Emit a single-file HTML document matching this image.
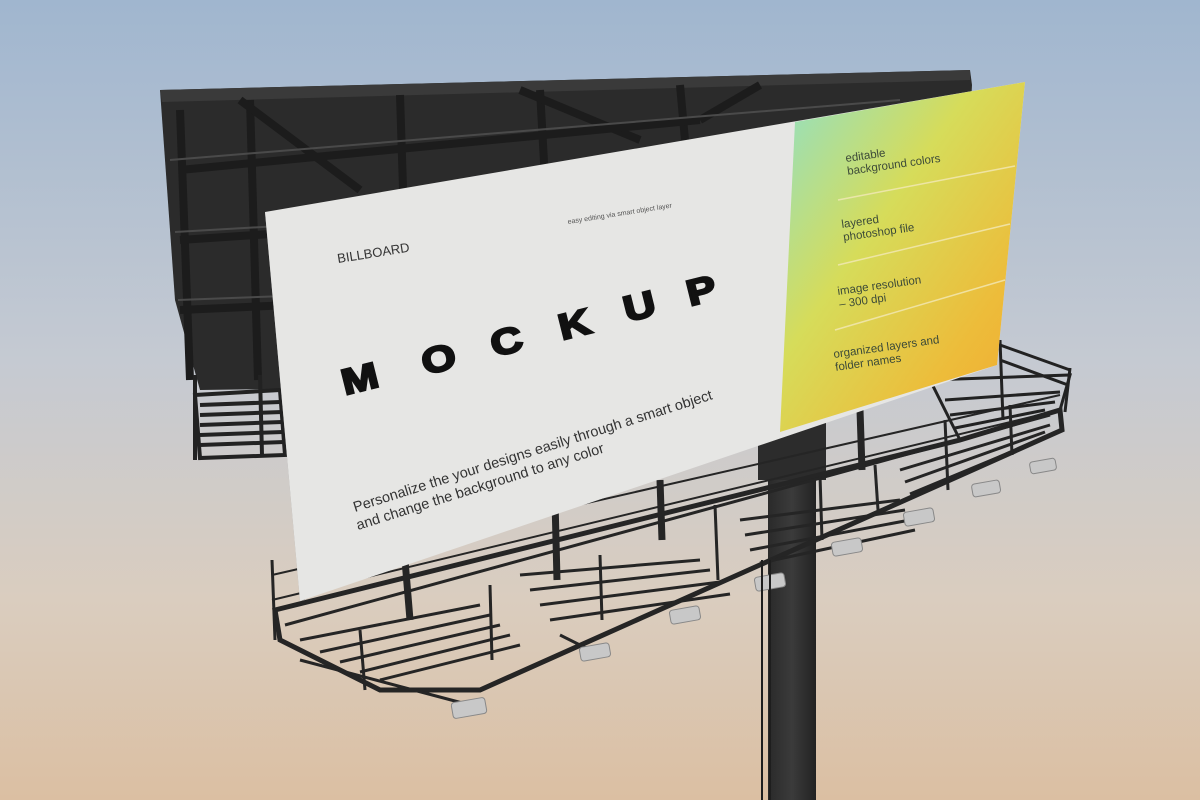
<!DOCTYPE html>
<html><head><meta charset="utf-8"><style>
html,body{margin:0;padding:0;width:1200px;height:800px;overflow:hidden}
svg{display:block}
text{font-family:"Liberation Sans",sans-serif}
</style></head><body>
<svg width="1200" height="800" viewBox="0 0 1200 800" xmlns="http://www.w3.org/2000/svg">
<defs>
<linearGradient id="sky" x1="0" y1="0" x2="0" y2="1">
<stop offset="0" stop-color="#a0b6cf"/><stop offset="0.45" stop-color="#c5cad2"/><stop offset="0.75" stop-color="#dacdbf"/><stop offset="1" stop-color="#dbbfa2"/>
</linearGradient>
<linearGradient id="grad" x1="0" y1="0" x2="1" y2="1">
<stop offset="0" stop-color="#8fe0c8"/><stop offset="0.4" stop-color="#d6dc5a"/><stop offset="0.75" stop-color="#edbc3a"/><stop offset="1" stop-color="#f0a830"/>
</linearGradient>
<linearGradient id="pole" x1="0" x2="1">
<stop offset="0" stop-color="#2a2a2a"/><stop offset="0.5" stop-color="#3b3b3b"/><stop offset="1" stop-color="#222"/>
</linearGradient>
</defs>
<rect width="1200" height="800" fill="url(#sky)"/>
<rect x="768" y="420" width="48" height="380" fill="url(#pole)"/>
<rect x="758" y="420" width="68" height="60" fill="#2c2c2c"/>
<polygon points="160,90 970,70 972,85 960,300 930,380 200,390 175,300" fill="#2b2b2b"/>
<polygon points="160,90 970,70 970,80 162,102" fill="#3a3a3a"/>
<g stroke="#1c1c1c" stroke-width="8" fill="none">
<line x1="180" y1="110" x2="190" y2="380"/>
<line x1="250" y1="100" x2="258" y2="380"/>
<line x1="400" y1="95" x2="405" y2="250"/>
<line x1="540" y1="90" x2="545" y2="180"/>
<line x1="680" y1="85" x2="685" y2="140"/>
<line x1="240" y1="100" x2="360" y2="190"/>
<line x1="520" y1="90" x2="640" y2="140"/>
<line x1="760" y1="85" x2="700" y2="120"/>
<line x1="180" y1="170" x2="700" y2="120"/>
<line x1="180" y1="240" x2="300" y2="232"/>
<line x1="180" y1="310" x2="290" y2="305"/>
</g>
<g stroke="#4a4a4a" stroke-width="2" fill="none">
<line x1="170" y1="160" x2="900" y2="100"/>
<line x1="175" y1="232" x2="280" y2="226"/>
<line x1="178" y1="300" x2="285" y2="296"/>
</g>
<g stroke="#222" stroke-width="4" fill="none">
<polygon points="195,395 280,390 285,455 200,458"/>
<line x1="200" y1="405" x2="280" y2="402"/><line x1="200" y1="415" x2="282" y2="412"/><line x1="200" y1="425" x2="282" y2="422"/><line x1="200" y1="435" x2="283" y2="432"/><line x1="200" y1="445" x2="284" y2="442"/>
<line x1="195" y1="375" x2="195" y2="460"/><line x1="260" y1="375" x2="262" y2="455"/>
</g>
<g stroke="#222" stroke-width="3" fill="none">
<polygon points="930,380 1070,375 1060,410 960,440"/>
<line x1="1000" y1="340" x2="1003" y2="420"/><line x1="1070" y1="368" x2="1065" y2="412"/>
<line x1="1000" y1="345" x2="1070" y2="370"/><line x1="1000" y1="360" x2="1068" y2="385"/>
<line x1="945" y1="400" x2="1060" y2="392"/><line x1="950" y1="415" x2="1055" y2="402"/><line x1="955" y1="428" x2="1045" y2="410"/>
</g>
<g stroke="#252525" fill="none">
<polygon points="275,610 960,440 1060,410 1062,430 480,690 380,690 280,640" stroke-width="5"/>
<line x1="285" y1="625" x2="1050" y2="415" stroke-width="3"/>
<g stroke-width="3">
<line x1="300" y1="640" x2="480" y2="605"/><line x1="320" y1="652" x2="490" y2="615"/><line x1="340" y1="662" x2="500" y2="625"/><line x1="360" y1="672" x2="510" y2="635"/><line x1="380" y1="680" x2="520" y2="645"/>
<line x1="520" y1="575" x2="700" y2="560"/><line x1="530" y1="590" x2="710" y2="570"/><line x1="540" y1="605" x2="720" y2="582"/><line x1="550" y1="620" x2="730" y2="594"/>
<line x1="740" y1="520" x2="900" y2="500"/><line x1="745" y1="535" x2="905" y2="510"/><line x1="750" y1="550" x2="910" y2="520"/><line x1="760" y1="563" x2="915" y2="530"/>
<line x1="900" y1="470" x2="1050" y2="425"/><line x1="905" y1="482" x2="1045" y2="432"/><line x1="910" y1="494" x2="1040" y2="440"/>
</g>
<g stroke-width="3">
<line x1="272" y1="560" x2="275" y2="640"/><line x1="360" y1="630" x2="365" y2="690"/><line x1="490" y1="585" x2="492" y2="660"/><line x1="600" y1="555" x2="602" y2="620"/><line x1="715" y1="505" x2="718" y2="580"/><line x1="820" y1="475" x2="822" y2="540"/><line x1="875" y1="465" x2="878" y2="510"/><line x1="945" y1="420" x2="948" y2="490"/><line x1="1010" y1="405" x2="1012" y2="455"/>
<line x1="272" y1="575" x2="1060" y2="395" stroke-width="2"/>
<line x1="272" y1="600" x2="1060" y2="410" stroke-width="2"/>
</g>
<g stroke-width="7">
<line x1="405" y1="560" x2="410" y2="620"/><line x1="555" y1="500" x2="557" y2="580"/><line x1="660" y1="480" x2="662" y2="540"/><line x1="860" y1="410" x2="862" y2="470"/>
</g>
<line x1="300" y1="660" x2="470" y2="705" stroke-width="3"/>
<line x1="560" y1="635" x2="600" y2="655" stroke-width="3"/>
</g>
<g fill="#c8c8c8" stroke="#888" stroke-width="1">
<rect x="452" y="700" width="34" height="16" rx="3" transform="rotate(-10 469 708)"/>
<rect x="580" y="645" width="30" height="14" rx="3" transform="rotate(-10 595 652)"/>
<rect x="670" y="608" width="30" height="14" rx="3" transform="rotate(-10 685 615)"/>
<rect x="755" y="575" width="30" height="14" rx="3" transform="rotate(-10 770 582)"/>
<rect x="832" y="540" width="30" height="14" rx="3" transform="rotate(-10 847 547)"/>
<rect x="904" y="510" width="30" height="14" rx="3" transform="rotate(-10 919 517)"/>
<rect x="972" y="482" width="28" height="13" rx="3" transform="rotate(-10 986 488)"/>
<rect x="1030" y="460" width="26" height="12" rx="3" transform="rotate(-10 1043 466)"/>
</g>
<g stroke="#1e1e1e" stroke-width="2"><line x1="762" y1="560" x2="762" y2="800"/><line x1="770" y1="560" x2="770" y2="800"/></g>
<polygon points="265,212 285,215 305,600 300,601" fill="#9a9a9a"/>
<polygon points="265,212 1025,82 997,365 300,601" fill="#e6e6e4"/>
<polygon points="795,122 1025,82 997,365 780,432" fill="url(#grad)"/>
<g stroke="#f3e9b8" stroke-width="1.5" opacity="0.8">
<line x1="838" y1="200" x2="1015" y2="166"/>
<line x1="838" y1="265" x2="1010" y2="224"/>
<line x1="835" y1="330" x2="1005" y2="280"/>
</g>
<g fill="#3c4a38" font-size="11.5">
<text transform="translate(846,162) rotate(-8)">editable<tspan x="0" dy="13">background colors</tspan></text>
<text transform="translate(842,228) rotate(-8)">layered<tspan x="0" dy="13">photoshop file</tspan></text>
<text transform="translate(838,295) rotate(-8)">image resolution<tspan x="0" dy="13">– 300 dpi</tspan></text>
<text transform="translate(834,358) rotate(-8)">organized layers and<tspan x="0" dy="13">folder names</tspan></text>
</g>
<text transform="translate(568,224) rotate(-9)" font-size="7" fill="#555">easy editing via smart object layer</text>
<text transform="translate(338,263) rotate(-9)" font-size="13" fill="#333">BILLBOARD</text>
<g font-size="40" font-weight="bold" fill="#111" stroke="#111" stroke-width="2.5">
<text transform="translate(345,395) rotate(-14) scale(1.1,0.9)">M</text>
<text transform="translate(425,375) rotate(-14) scale(1.1,0.9)">O</text>
<text transform="translate(494,357) rotate(-14) scale(1.1,0.9)">C</text>
<text transform="translate(562,340) rotate(-14) scale(1.1,0.9)">K</text>
<text transform="translate(627,322) rotate(-14) scale(1.1,0.9)">U</text>
<text transform="translate(690,306) rotate(-14) scale(1.1,0.9)">P</text>
</g>
<g fill="#333" font-size="14.5">
<text transform="translate(355,512) rotate(-17.5)">Personalize the your designs easily through a smart object</text>
<text transform="translate(358,530) rotate(-17.5)">and change the background to any color</text>
</g>
</svg>
</body></html>
